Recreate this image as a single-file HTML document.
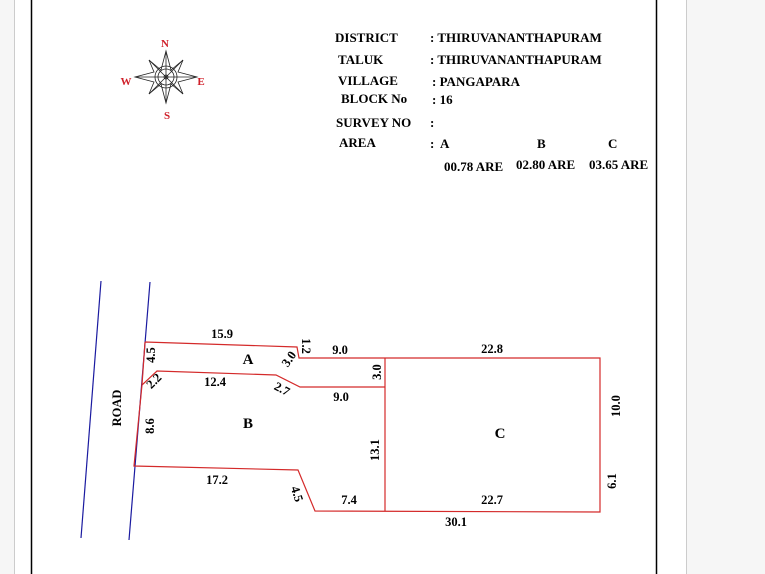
<!DOCTYPE html>
<html><head><meta charset="utf-8"><style>
html,body{margin:0;padding:0;width:765px;height:574px;overflow:hidden;background:#fff}
</style></head><body>
<svg width="765" height="574" viewBox="0 0 765 574" xmlns="http://www.w3.org/2000/svg" font-family="Liberation Serif, serif" font-weight="bold">
<rect x="0" y="0" width="14" height="574" fill="#f6f6f6"/>
<line x1="14.5" y1="0" x2="14.5" y2="574" stroke="#ccc"/>
<rect x="686" y="0" width="79" height="574" fill="#f6f6f6"/>
<line x1="686.5" y1="0" x2="686.5" y2="574" stroke="#ccc"/>
<line x1="31.5" y1="0" x2="31.5" y2="574" stroke="#000" stroke-width="1.5"/>
<line x1="656.5" y1="0" x2="656.5" y2="574" stroke="#000" stroke-width="1.5"/>

<g stroke="#222" stroke-width="0.8" fill="none">
<polygon points="166,51 171,70 183,60 178,72 197,77 178,82 183,94 171,84 166,103 161,84 149,94 154,82 135,77 154,72 149,60 161,70"/>
<line x1="166" y1="51" x2="166" y2="103"/><line x1="135" y1="77" x2="197" y2="77"/>
<line x1="149" y1="60" x2="183" y2="94"/><line x1="183" y1="60" x2="149" y2="94"/>
<circle cx="166" cy="77" r="11"/><circle cx="166" cy="77" r="8"/><circle cx="166" cy="77" r="2"/>
</g>
<g fill="#d0202a" font-size="11" text-anchor="middle">
<text x="165" y="47">N</text><text x="126" y="85">W</text><text x="201" y="85">E</text><text x="167" y="119">S</text>
</g>

<g font-size="13" fill="#000">
<text x="335" y="42">DISTRICT</text><text x="430" y="42">: THIRUVANANTHAPURAM</text>
<text x="338" y="64">TALUK</text><text x="430" y="64">: THIRUVANANTHAPURAM</text>
<text x="338" y="85">VILLAGE</text><text x="432" y="86">: PANGAPARA</text>
<text x="341" y="103">BLOCK  No</text><text x="432" y="104">: 16</text>
<text x="336" y="127">SURVEY NO</text><text x="430" y="127">:</text>
<text x="339" y="147">AREA</text><text x="430" y="148">:</text>
<text x="440" y="148">A</text><text x="537" y="148">B</text><text x="608" y="148">C</text>
<text x="444" y="171">00.78 ARE</text><text x="516" y="169">02.80 ARE</text><text x="589" y="169">03.65 ARE</text>
</g>

<line x1="101" y1="281" x2="81" y2="538" stroke="#1a1aa0" stroke-width="1.2"/>
<line x1="150" y1="282" x2="129" y2="540" stroke="#1a1aa0" stroke-width="1.2"/>

<g stroke="#d42a2a" stroke-width="1.2" fill="none">
<polyline points="145,342 297,347 299,358 600,358 600,512 315,511 298,470 134,466 142,385 145,342"/>
<polyline points="142,385 157,371 276,375 300,387 385,387"/>
<line x1="385" y1="358" x2="385" y2="511"/>
</g>

<g font-size="12.5" fill="#000" text-anchor="middle">
<text x="222" y="338">15.9</text>
<text x="340" y="354">9.0</text>
<text x="492" y="353">22.8</text>
<text x="248" y="364" font-size="15">A</text>
<text x="215" y="386">12.4</text>
<text x="341" y="401">9.0</text>
<text x="248" y="428" font-size="15">B</text>
<text x="500" y="438" font-size="15">C</text>
<text x="217" y="484">17.2</text>
<text x="349" y="504">7.4</text>
<text x="492" y="504">22.7</text>
<text x="456" y="526">30.1</text>
<text transform="translate(306,346) rotate(90)" y="4">1.2</text>
<text transform="translate(151,355) rotate(-90)" y="4">4.5</text>
<text transform="translate(289,359) rotate(-55)" y="4">3.0</text>
<text transform="translate(377,372) rotate(-90)" y="4">3.0</text>
<text transform="translate(154,381) rotate(-45)" y="4">2.2</text>
<text transform="translate(282,389) rotate(28)" y="4">2.7</text>
<text transform="translate(616,406) rotate(-90)" y="4">10.0</text>
<text transform="translate(117,408) rotate(-90)" y="4">ROAD</text>
<text transform="translate(150,426) rotate(-90)" y="4">8.6</text>
<text transform="translate(375,450) rotate(-90)" y="4">13.1</text>
<text transform="translate(612,481) rotate(-90)" y="4">6.1</text>
<text transform="translate(297,494) rotate(72)" y="4">4.5</text>
</g>
</svg>
</body></html>
